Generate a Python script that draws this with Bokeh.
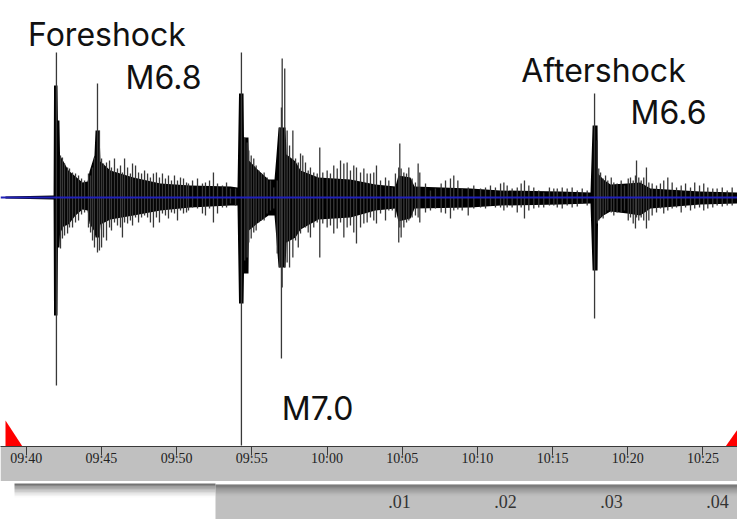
from bokeh.plotting import figure
from bokeh.models import Range1d, FixedTicker, Span, ColumnDataSource
from bokeh.layouts import column
from bokeh.embed import file_html
from bokeh.resources import INLINE
from bokeh.core.properties import value

# ---------------- data ----------------
# time: minutes after 09:40 ; amplitude: counts relative to the trace baseline
tick_minutes = [0, 5, 10, 15, 20, 25, 30, 35, 40, 45]
tick_labels = ["09:40", "09:45", "09:50", "09:55", "10:00",
               "10:05", "10:10", "10:15", "10:20", "10:25"]

# dense core of the trace (upper / lower envelope)
env_t = [-1.38, 1.82, 1.85, 2.08, 2.11, 2.21, 2.25, 2.48, 2.81, 3.28, 3.74, 4.08,
         4.21, 4.54, 4.61, 4.87, 4.94, 5.60, 7.13, 8.93, 10.92, 13.58, 14.05,
         14.15, 14.45, 14.48, 14.78, 14.81, 15.45, 16.11, 16.51, 16.64, 16.78,
         17.24, 17.31, 17.91, 18.24, 19.43, 21.56, 23.22, 24.55, 24.75, 25.55,
         25.82, 29.54, 31.54, 35.52, 37.52, 37.66, 37.99, 38.02, 38.38, 38.85,
         39.97, 40.83, 41.51, 44.83, 47.29]
env_up = [1, 2, 112, 112, 77, 77, 42, 36, 27, 21, 15, 16,
          26, 42, 67, 67, 36, 27, 20, 14, 12, 11, 10,
          104, 104, 60, 60, 37, 27, 18, 18, 42, 70,
          70, 43, 36, 27, 20, 18, 13, 11, 22, 20,
          11, 9, 7, 6, 5, 72, 72, 24, 18, 13,
          14, 15, 9, 6, 5]
env_dn = [-1, -2, -118, -118, -50, -50, -36, -29, -27, -18, -12, -13,
          -26, -34, -40, -40, -27, -22, -18, -13, -10, -8, -8,
          -106, -106, -76, -76, -33, -25, -18, -18, -42, -70,
          -70, -45, -40, -32, -22, -20, -13, -11, -24, -21,
          -11, -10, -8, -7, -6, -73, -73, -23, -18, -14,
          -16, -18, -11, -7, -6]

# individual swings standing out of the core
spike_t = [2.01, 2.28, 2.41, 2.55, 2.75, 2.88, 3.08, 3.28, 3.48, 3.68, 3.88, 4.14,
           4.28, 4.41, 4.54, 4.74, 4.87, 5.01, 5.14, 5.34, 5.54, 5.67, 5.87, 6.07,
           6.27, 6.40, 6.54, 6.74, 6.93, 7.07, 7.27, 7.47, 7.67, 7.87, 8.07, 8.26,
           8.46, 8.66, 8.86, 9.06, 9.26, 9.46, 9.66, 9.86, 10.06, 10.26, 10.46, 10.66,
           10.79, 11.06, 11.39, 11.72, 11.92, 12.19, 12.45, 12.72, 13.05, 13.32, 13.58, 13.92,
           14.31, 14.53, 14.69, 14.80, 14.96, 15.13, 15.29, 15.47, 15.64, 15.82, 16.02, 16.24,
           16.46, 16.69, 16.86, 16.97, 17.02, 17.19, 17.35, 17.51, 17.73, 17.91, 18.09, 18.24,
           18.39, 18.57, 18.75, 18.90, 19.12, 19.35, 19.52, 19.72, 20.01, 20.23, 20.45, 20.68,
           20.90, 21.12, 21.34, 21.56, 21.78, 21.96, 22.23, 22.45, 22.67, 22.89, 23.11, 23.29,
           23.56, 23.89, 24.11, 24.34, 24.55, 24.77, 24.84, 24.93, 25.11, 25.29, 25.44, 25.66,
           25.88, 26.06, 26.17, 26.55, 26.88, 27.21, 27.59, 27.88, 28.21, 28.43, 28.70, 28.99,
           29.39, 29.76, 30.21, 30.54, 30.87, 31.20, 31.54, 31.76, 31.98, 32.31, 32.65, 32.91,
           33.13, 33.42, 33.75, 34.08, 34.41, 34.79, 35.08, 35.31, 35.64, 35.97, 36.30, 36.64,
           36.97, 37.30, 37.79, 37.97, 38.07, 38.19, 38.36, 38.52, 38.67, 38.90, 39.07, 39.29,
           39.56, 39.78, 40.03, 40.18, 40.36, 40.51, 40.58, 40.73, 40.89, 41.06, 41.24, 41.40,
           41.62, 41.91, 42.17, 42.39, 42.66, 42.95, 43.24, 43.55, 43.84, 44.17, 44.45, 44.77,
           45.05, 45.32, 45.65, 45.94, 46.28, 46.61, 46.94]
spike_hi = [145, 42, 40, 34, 30, 29, 25, 24, 22, 19, 17, 24,
            22, 30, 40, 114, 67, 39, 34, 35, 37, 30, 39, 29,
            32, 25, 39, 30, 24, 34, 32, 25, 24, 27, 24, 20,
            24, 25, 20, 24, 19, 22, 17, 22, 17, 20, 19, 15,
            14, 17, 19, 14, 15, 17, 25, 14, 12, 15, 9, 9,
            145, 60, 55, 47, 42, 39, 32, 27, 24, 25, 20, 17,
            10, 17, 70, 90, 139, 129, 67, 52, 67, 39, 35, 44,
            42, 35, 27, 30, 25, 24, 50, 25, 27, 24, 32, 29,
            37, 34, 35, 27, 32, 30, 25, 29, 24, 24, 25, 32,
            17, 20, 17, 10, 24, 30, 54, 29, 25, 24, 30, 19,
            15, 34, 25, 14, 7, 9, 14, 17, 19, 22, 17, 9,
            10, 12, 9, 10, 12, 10, 14, 15, 12, 9, 10, 14,
            17, 12, 10, 7, 5, 10, 9, 9, 10, 9, 10, 7,
            9, 7, 104, 57, 29, 25, 19, 22, 17, 20, 15, 14,
            17, 12, 19, 20, 17, 22, 37, 20, 17, 20, 30, 15,
            14, 12, 14, 17, 20, 15, 10, 12, 14, 10, 15, 12,
            14, 10, 9, 9, 10, 7, 10]
spike_lo = [-188, -51, -41, -38, -36, -30, -30, -25, -23, -17, -15, -30,
            -35, -43, -50, -55, -53, -50, -40, -43, -30, -33, -25, -28,
            -30, -40, -25, -26, -23, -28, -20, -25, -20, -18, -20, -25,
            -30, -20, -25, -16, -18, -21, -15, -16, -23, -13, -16, -15,
            -13, -10, -11, -16, -18, -11, -25, -16, -10, -10, -6, -8,
            -248, -63, -60, -45, -41, -35, -33, -25, -23, -23, -16, -13,
            -11, -56, -70, -161, -90, -70, -65, -70, -60, -43, -50, -36,
            -30, -30, -35, -40, -30, -25, -60, -26, -30, -28, -36, -31,
            -25, -40, -30, -28, -35, -46, -30, -26, -25, -20, -23, -26,
            -16, -23, -13, -13, -20, -45, -30, -40, -30, -25, -23, -20,
            -18, -20, -25, -15, -13, -11, -15, -16, -21, -13, -12, -13,
            -18, -11, -10, -11, -8, -10, -10, -13, -10, -10, -15, -10,
            -21, -13, -11, -10, -10, -8, -8, -10, -11, -8, -10, -9,
            -6, -8, -121, -26, -23, -20, -21, -16, -13, -15, -18, -15,
            -15, -13, -23, -20, -26, -31, -20, -23, -20, -23, -31, -23,
            -18, -15, -11, -16, -13, -11, -10, -15, -10, -13, -11, -10,
            -13, -11, -10, -8, -9, -8, -8]

ann_text = ["Foreshock", "M6.8", "M7.0", "Aftershock", "M6.6"]
ann_t = [5.37, 9.13, 19.37, 38.38, 42.71]
ann_amp = [163, 120, -211, 127, 85]

sub_ticks = [0.01, 0.02, 0.03, 0.04]
sub_labels = [".01", ".02", ".03", ".04"]

# ---------------- main seismogram ----------------
x0, x1 = -1.709, 47.294
y0, y1 = -249, 197

p = figure(width=737, height=481, x_range=Range1d(x0, x1), y_range=Range1d(y0, y1),
           y_axis_location=None, toolbar_location=None, output_backend="svg",
           min_border_left=0, min_border_right=0, min_border_top=0, min_border_bottom=35)
p.background_fill_color = "white"
p.border_fill_color = "#c0c0c0"
p.outline_line_color = None
p.xgrid.visible = False
p.ygrid.visible = False

ax = p.xaxis[0]
ax.ticker = FixedTicker(ticks=tick_minutes)
ax.major_label_overrides = {t: l for t, l in zip(tick_minutes, tick_labels)}
ax.minor_tick_line_color = None
ax.major_tick_in = 0
ax.major_tick_out = 9
ax.axis_line_color = "#3a3a3a"
ax.major_tick_line_color = "#3a3a3a"
ax.major_label_standoff = -5
ax.major_label_text_font = "Liberation Sans Narrow"
ax.major_label_text_font_size = "14px"
ax.major_label_text_color = "#222222"

# red window markers at the corners
p.patch([-1.376, -1.376, -0.246], [y0, y0 + 26, y0], fill_color="#ff0000", line_color=None)
p.patch([46.5, x1, x1], [y0, y0 + 17, y0], fill_color="#ff0000", line_color=None)

p.varea(x=env_t, y1=env_dn, y2=env_up, fill_color="black")
spikes = ColumnDataSource(dict(t=spike_t, hi=spike_hi, lo=spike_lo))
p.segment(x0="t", y0="lo", x1="t", y1="hi", source=spikes,
          line_color="#383838", line_width=1.3)

p.add_layout(Span(location=0, dimension="width", line_color="#2020b8", line_width=2))

ann = ColumnDataSource(dict(t=ann_t, a=ann_amp, s=ann_text))
p.text(x="t", y="a", text="s", source=ann, text_font=value("Inter"),
       text_font_size="32px", text_align="center", text_baseline="alphabetic",
       text_color="#111111")

# ---------------- strip below (shadow + window behind) ----------------
def u(px):
    return 0.01 + (px - 399) / 10600.0

p2 = figure(width=737, height=38, x_range=Range1d(u(0), u(737)), y_range=Range1d(0, 38),
            x_axis_location=None, y_axis_location=None, toolbar_location=None,
            output_backend="svg", min_border=0)
p2.outline_line_color = None
p2.xgrid.visible = False
p2.ygrid.visible = False
p2.background_fill_color = "white"

# shadow under the axis band
steps = 10
for i in range(steps):
    a = 0.55 * (1 - i / steps) ** 1.5
    p2.quad(left=u(14), right=u(215), top=36 - i * 1.4, bottom=36 - (i + 1) * 1.4,
            fill_color="black", fill_alpha=a, line_color=None)
# grey window behind
p2.quad(left=u(215), right=u(737), top=35, bottom=0, fill_color="#c0c0c0", line_color=None)
for i in range(steps):
    a = 0.4 * (1 - i / steps) ** 1.5
    p2.quad(left=u(215), right=u(737), top=35 - i * 1.2, bottom=35 - (i + 1) * 1.2,
            fill_color="black", fill_alpha=a, line_color=None)

sub = ColumnDataSource(dict(x=sub_ticks, s=sub_labels))
p2.text(x="x", y=18, text="s", source=sub, text_font=value("Liberation Sans Narrow"),
        text_font_size="18px", text_align="center", text_baseline="alphabetic",
        text_color="#333333")

layout = column(p, p2, spacing=0)
open("out.html", "w").write(file_html(layout, INLINE))
